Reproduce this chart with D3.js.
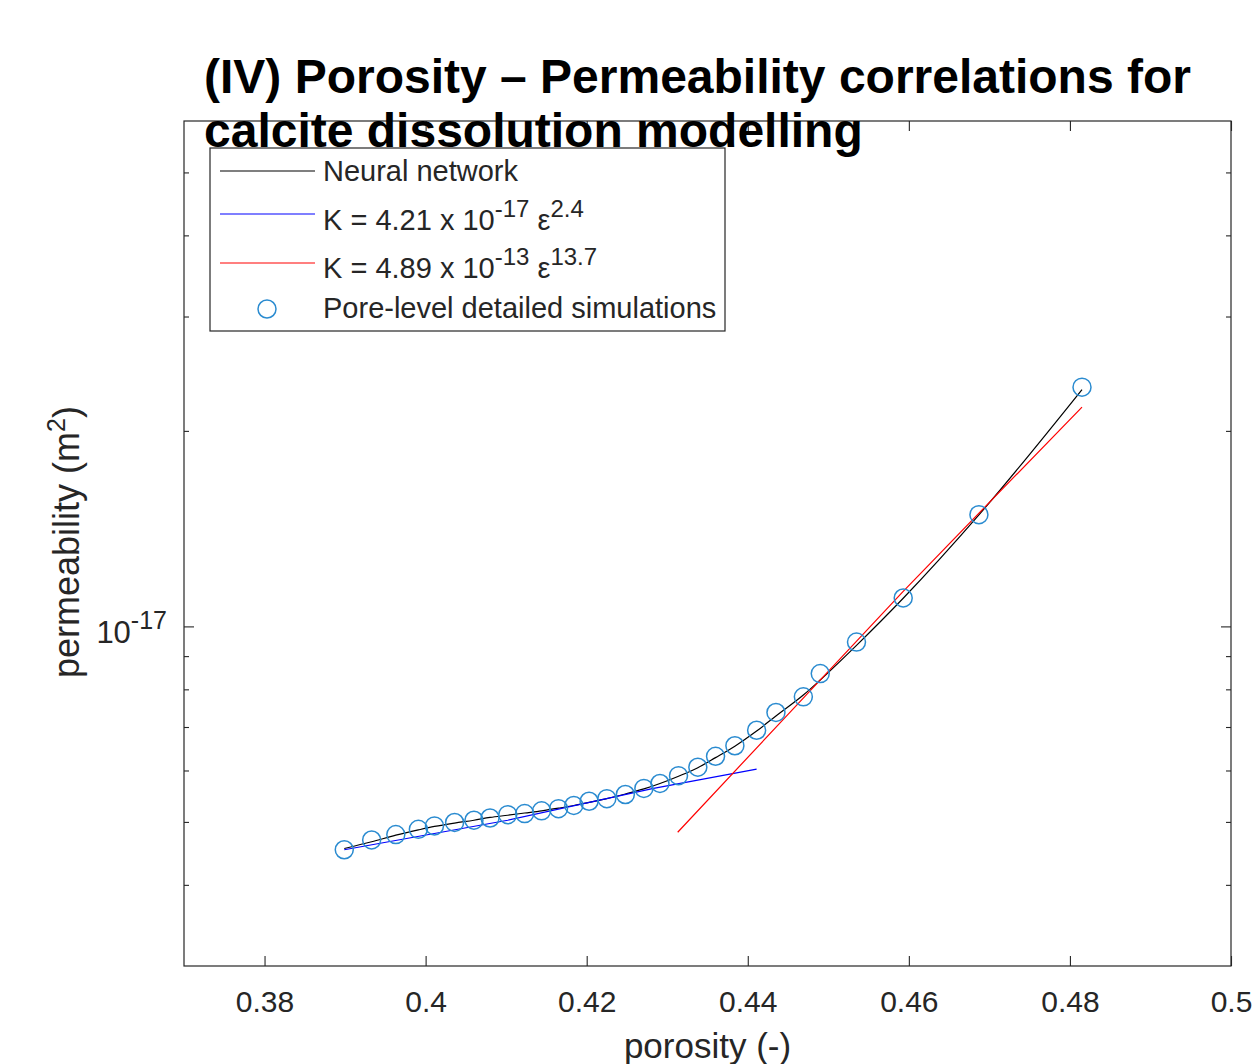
<!DOCTYPE html>
<html>
<head>
<meta charset="utf-8">
<script src="https://cdn.jsdelivr.net/npm/d3@7"></script>
<style>
html,body{margin:0;padding:0;background:#fff;}
svg{display:block;font-family:"Liberation Sans",Arial,Helvetica,sans-serif;}
</style>
</head>
<body>
<script>
// ---- data ----
const porosity = [0.3899,0.3933,0.3963,0.3991,0.4011,0.4036,0.4060,0.4080,0.4102,0.4123,
                  0.4144,0.4165,0.4184,0.4203,0.4225,0.4248,0.4271,0.4291,0.4314,0.4338,
                  0.4360,0.4384,0.4411,0.4435,0.4469,0.4490,0.4535,0.4593,0.4687,0.4815];
const permeability = [4.53e-18,4.69e-18,4.78e-18,4.87e-18,4.93e-18,4.99e-18,5.03e-18,5.07e-18,5.13e-18,5.15e-18,
                      5.20e-18,5.24e-18,5.30e-18,5.38e-18,5.43e-18,5.51e-18,5.63e-18,5.73e-18,5.89e-18,6.07e-18,
                      6.31e-18,6.55e-18,6.92e-18,7.37e-18,7.79e-18,8.46e-18,9.46e-18,1.106e-17,1.486e-17,2.335e-17];
const nnPorosity = porosity;
const nnPermeability = [4.55e-18,4.66e-18,4.77e-18,4.86e-18,4.92e-18,4.98e-18,5.03e-18,5.08e-18,5.12e-18,5.16e-18,
                        5.20e-18,5.25e-18,5.30e-18,5.36e-18,5.43e-18,5.52e-18,5.62e-18,5.73e-18,5.88e-18,6.06e-18,
                        6.28e-18,6.54e-18,6.90e-18,7.28e-18,7.84e-18,8.27e-18,9.35e-18,1.105e-17,1.485e-17,2.316e-17];
const blueX = [0.3899,0.4102,0.4283,0.4411];
const blueY = [4.53e-18,5.03e-18,5.63e-18,6.03e-18];
const redX = [0.4313,0.4450,0.4593,0.4700,0.4815];
const redY = [4.82e-18,7.32e-18,1.132e-17,1.552e-17,2.176e-17];
const xTicks = [0.38,0.40,0.42,0.44,0.46,0.48,0.50];
const xTickLabels = ["0.38","0.4","0.42","0.44","0.46","0.48","0.5"];
const yMajorTicks = [1e-17];
const yMinorTicks = [4e-18,5e-18,6e-18,7e-18,8e-18,9e-18,2e-17,3e-17,4e-17,5e-17];
const titleLines = ["(IV) Porosity \u2013 Permeability correlations for","calcite dissolution modelling"];
const legendItems = [
  {type:"line", color:"#000000", parts:[["Neural network",0]]},
  {type:"line", color:"#0000ff", parts:[["K = 4.21 x 10",0],["-17",1],[" \u03b5",0],["2.4",1]]},
  {type:"line", color:"#ff0000", parts:[["K = 4.89 x 10",0],["-13",1],[" \u03b5",0],["13.7",1]]},
  {type:"circle", color:"#2a8bd0", parts:[["Pore-level detailed simulations",0]]}
];

// ---- layout ----
const W = 1260, H = 1064;
const L = 184, R = 1231, T = 121, B = 966;
const axisColor = "#262626";
const svg = d3.select("body").append("svg").attr("width",W).attr("height",H);

const x = d3.scaleLinear().domain([0.37,0.50]).range([L,R]);
const y = d3.scaleLog().domain([3e-18,6e-17]).range([B,T]);

// axes box
svg.append("rect").attr("x",L).attr("y",T).attr("width",R-L).attr("height",B-T)
  .attr("fill","#fff").attr("stroke",axisColor).attr("stroke-width",1.2);

function styleAxis(g){
  g.select(".domain").remove();
  g.selectAll(".tick line").attr("stroke",axisColor).attr("stroke-width",1.1);
  g.selectAll("text").attr("fill",axisColor).attr("font-family","Liberation Sans, Arial, sans-serif");
}
// bottom axis
svg.append("g").attr("transform",`translate(0,${B})`)
  .call(d3.axisBottom(x).tickValues(xTicks).tickSize(-10).tickPadding(25)
        .tickFormat((d,i)=>xTickLabels[i]))
  .call(styleAxis)
  .call(g=>g.selectAll("text").attr("font-size",30));
// top axis
svg.append("g").attr("transform",`translate(0,${T})`)
  .call(d3.axisTop(x).tickValues(xTicks).tickSize(-10).tickFormat(()=>""))
  .call(styleAxis);
// left / right axes
svg.append("g").attr("transform",`translate(${L},0)`)
  .call(d3.axisLeft(y).tickValues(yMajorTicks).tickSize(-10).tickFormat(()=>""))
  .call(styleAxis);
svg.append("g").attr("transform",`translate(${L},0)`)
  .call(d3.axisLeft(y).tickValues(yMinorTicks).tickSize(-5).tickFormat(()=>""))
  .call(styleAxis);
svg.append("g").attr("transform",`translate(${R},0)`)
  .call(d3.axisRight(y).tickValues(yMajorTicks).tickSize(-10).tickFormat(()=>""))
  .call(styleAxis);
svg.append("g").attr("transform",`translate(${R},0)`)
  .call(d3.axisRight(y).tickValues(yMinorTicks).tickSize(-5).tickFormat(()=>""))
  .call(styleAxis);

// y tick label 10^-17
yMajorTicks.forEach(v=>{
  const t = svg.append("text").attr("x",167).attr("y",y(v)+17)
    .attr("text-anchor","end").attr("fill",axisColor);
  t.append("tspan").attr("font-size",31).text("10");
  t.append("tspan").attr("font-size",25).attr("dy",-14).text("-" + Math.round(-Math.log10(v)));
});

// axis labels
svg.append("text").attr("x",(L+R)/2).attr("y",1058).attr("text-anchor","middle")
  .attr("font-size",35).attr("fill",axisColor).text("porosity (-)");
const yl = svg.append("text").attr("transform",`translate(79,${542}) rotate(-90)`)
  .attr("text-anchor","middle").attr("font-size",36).attr("fill",axisColor);
yl.append("tspan").text("permeability (m");
yl.append("tspan").attr("font-size",25).attr("dy",-14).text("2");
yl.append("tspan").attr("dy",14).text(")");

// lines
const line = d3.line().x(d=>x(d[0])).y(d=>y(d[1]));
svg.append("path").datum(d3.zip(nnPorosity,nnPermeability))
  .attr("d",line.curve(d3.curveMonotoneX)).attr("fill","none").attr("stroke","#000").attr("stroke-width",1.2);
svg.append("path").datum(d3.zip(blueX,blueY))
  .attr("d",d3.line().x(d=>x(d[0])).y(d=>y(d[1]))).attr("fill","none").attr("stroke","#0000ff").attr("stroke-width",1.2);
svg.append("path").datum(d3.zip(redX,redY))
  .attr("d",d3.line().x(d=>x(d[0])).y(d=>y(d[1]))).attr("fill","none").attr("stroke","#ff0000").attr("stroke-width",1.2);
// points
svg.append("g").selectAll("circle").data(d3.zip(porosity,permeability)).join("circle")
  .attr("cx",d=>x(d[0])).attr("cy",d=>y(d[1])).attr("r",9)
  .attr("fill","none").attr("stroke","#2a8bd0").attr("stroke-width",1.5);

// legend
const lg = svg.append("g");
lg.append("rect").attr("x",210).attr("y",148).attr("width",515).attr("height",183)
  .attr("fill","#fff").attr("stroke",axisColor).attr("stroke-width",1.2);
const rowSym = [171,214,263,309];
const rowBase = [181,230,278,318];
legendItems.forEach((it,i)=>{
  if(it.type==="line"){
    lg.append("line").attr("x1",220).attr("x2",315).attr("y1",rowSym[i]).attr("y2",rowSym[i])
      .attr("stroke",it.color).attr("stroke-width",1.2);
  } else {
    lg.append("circle").attr("cx",267).attr("cy",rowSym[i]).attr("r",9)
      .attr("fill","none").attr("stroke",it.color).attr("stroke-width",1.5);
  }
  const t = lg.append("text").attr("x",323).attr("y",rowBase[i]).attr("font-size",29).attr("fill",axisColor);
  let raised = false;
  it.parts.forEach(([s,sup])=>{
    const ts = t.append("tspan").text(s);
    if(sup && !raised){ ts.attr("font-size",24).attr("dy",-13); raised = true; }
    else if(!sup && raised){ ts.attr("dy",13); raised = false; }
    else if(sup) ts.attr("font-size",24);
  });
});

// title
const title = svg.append("g");
titleLines.forEach((s,i)=>{
  title.append("text").attr("x",204).attr("y",93+i*54).attr("font-size",48)
    .attr("font-weight","bold").attr("fill","#000").text(s);
});
</script>
</body>
</html>
